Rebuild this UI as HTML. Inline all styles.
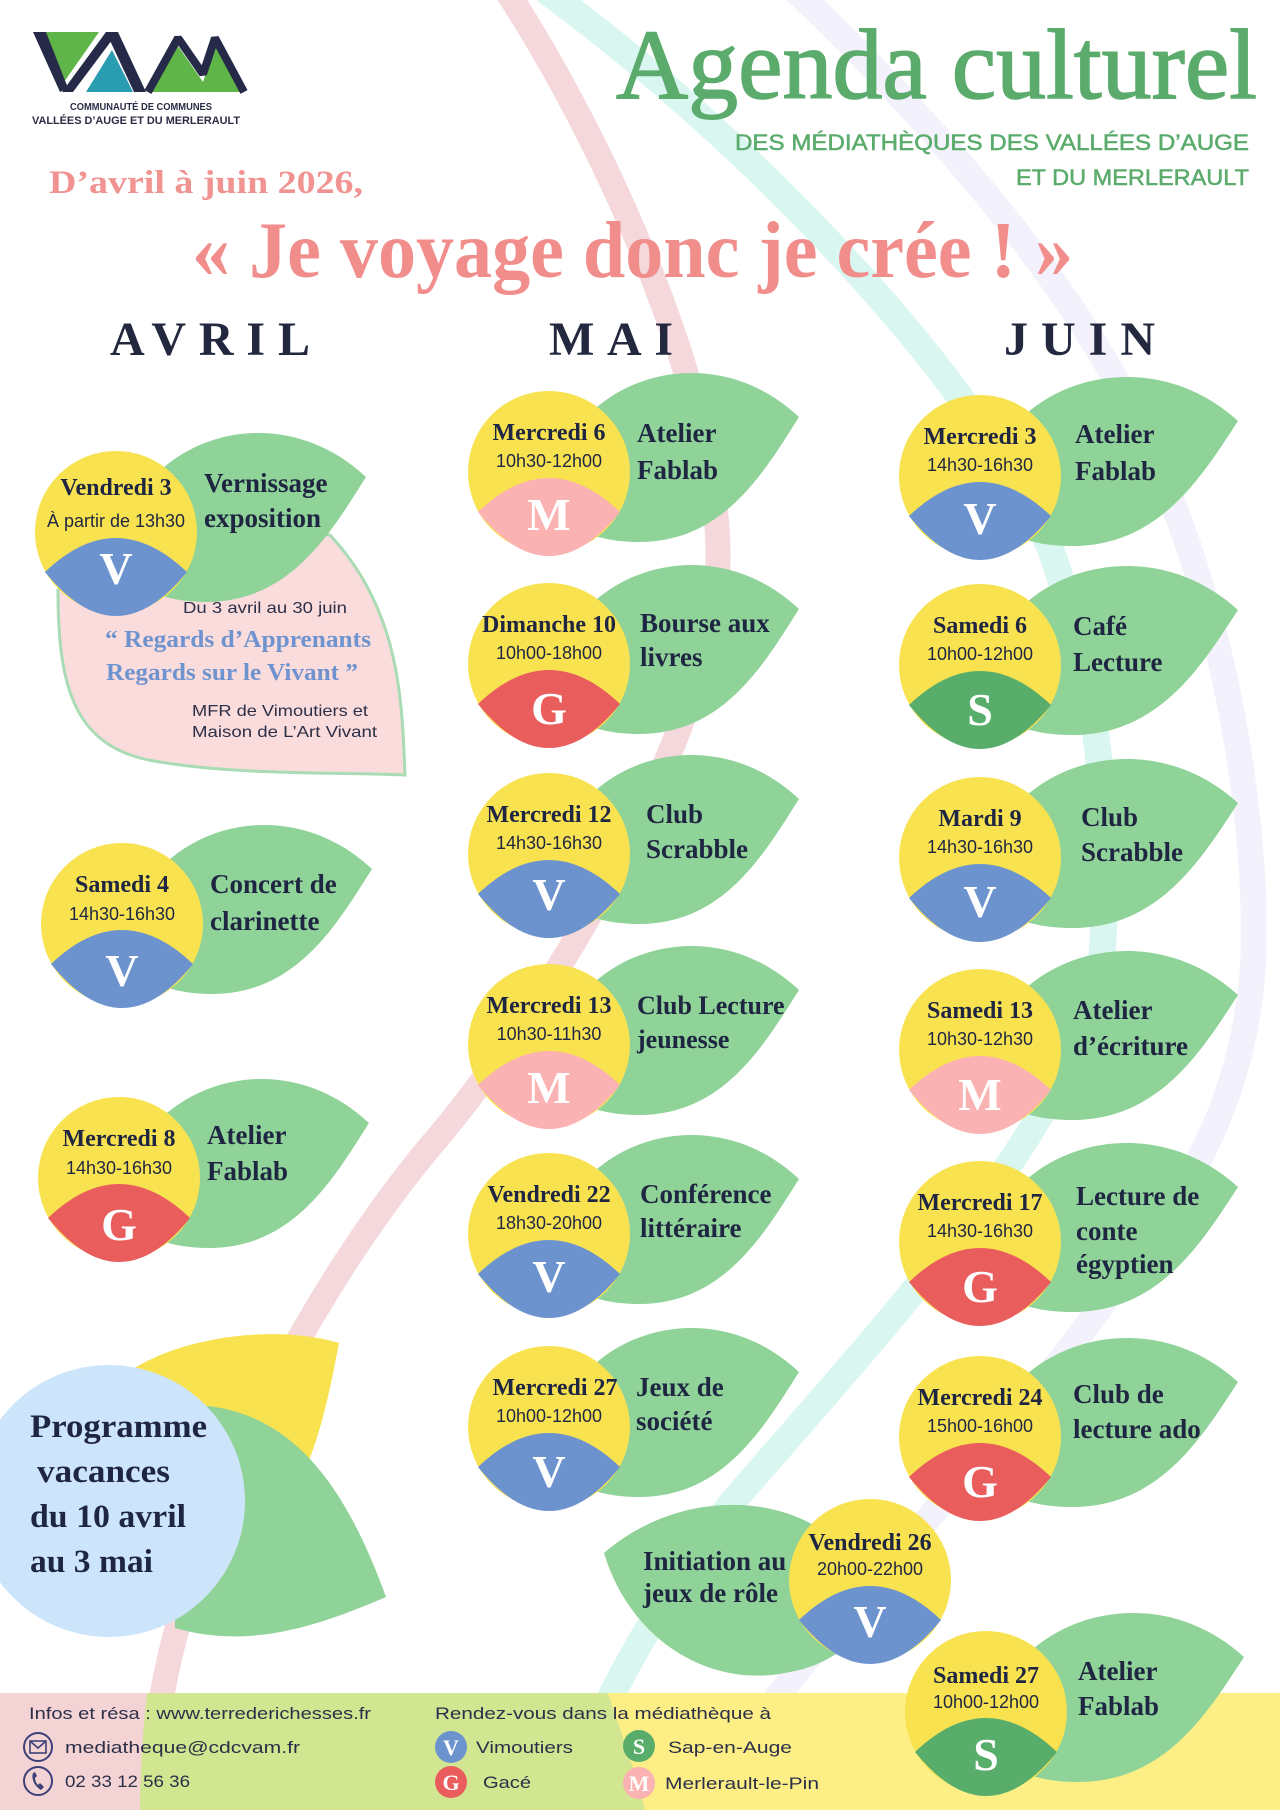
<!DOCTYPE html>
<html><head><meta charset="utf-8">
<style>
html,body{margin:0;padding:0;background:#fff;}
svg{display:block;}
.date{font-family:"Liberation Serif",serif;font-weight:bold;font-size:24px;text-anchor:middle;fill:#1f2642}
.time{font-family:"Liberation Sans",sans-serif;font-size:18px;text-anchor:middle;fill:#1f2642}
.let{font-family:"Liberation Serif",serif;font-weight:bold;font-size:46px;text-anchor:middle;fill:#fff}
.lt{font-family:"Liberation Serif",serif;font-weight:bold;font-size:27px;fill:#1f2642}
.vac{font-family:"Liberation Serif",serif;font-weight:bold;font-size:33px;fill:#1f2642}
.ft{font-family:"Liberation Sans",sans-serif;font-size:17px;fill:#2b2f48}
.lgl{font-family:"Liberation Serif",serif;font-weight:bold;font-size:22px;text-anchor:middle;fill:#fff}
.mon{font-family:"Liberation Serif",serif;font-weight:bold;font-size:48px;fill:#23283f}
</style></head><body>
<svg width="1280" height="1810" viewBox="0 0 1280 1810" xmlns="http://www.w3.org/2000/svg">
<defs>
<path id="leafR" d="M0,20 C20,-95 160,-140 250,-55 C215,0 175,70 90,70 C45,70 10,55 0,20Z"/>
<path id="leafJ" d="M0,20 C20,-95 165,-140 258,-55 C222,0 180,70 92,70 C45,70 10,55 0,20Z"/>
<path id="leafL" d="M0,20 C-20,-80 -170,-110 -266,-27 C-240,60 -160,110 -80,92 C-40,85 -5,60 0,20Z"/>
<path id="lens" d="M-71,40 Q0,-28 71,40 Q0,128 -71,40Z"/>
</defs>

<rect width="1280" height="1810" fill="#fff"/>

<!-- background bands -->
<path d="M795,-10 C900,90 1080,280 1150,450 C1230,620 1262,850 1252,980 C1235,1150 1150,1230 1095,1315 C980,1470 850,1600 775,1700" fill="none" stroke="#f3f2fc" stroke-width="26"/>
<path d="M545,-10 C750,140 980,380 1051,550 C1100,690 1110,820 1103,940 C1100,1100 880,1330 730,1505 C660,1600 590,1720 560,1820" fill="none" stroke="#d9f7f0" stroke-width="27"/>
<path d="M506,-10 C610,150 720,400 718,560 C716,720 560,990 440,1135 C340,1250 200,1480 161,1700 L155,1810" fill="none" stroke="#f4d8db" stroke-width="25"/>

<!-- logo -->
<g>
<polygon points="46,32 99,32 64,82" fill="#5fb548"/>
<polygon points="33,32 46,32 68,88 60,92" fill="#262a48"/>
<polygon points="106,32 118,32 73,92 62,92" fill="#262a48"/>
<polygon points="112,50 86,92 133,92" fill="#2b9db3"/>
<polygon points="106,32 118,32 146,92 134,92" fill="#262a48"/>
<polygon points="152,92 178,46 203,82 215,46 241,92" fill="#5fb548"/>
<polyline points="148,92 178,38 203,74 215,38 244,92" fill="none" stroke="#262a48" stroke-width="8" stroke-linejoin="bevel"/>
<text x="70" y="110" textLength="142" lengthAdjust="spacingAndGlyphs" style="font-family:'Liberation Sans',sans-serif;font-weight:bold;font-size:10px;fill:#2a2d45">COMMUNAUTÉ DE COMMUNES</text>
<text x="32" y="124" textLength="208" lengthAdjust="spacingAndGlyphs" style="font-family:'Liberation Sans',sans-serif;font-weight:bold;font-size:11px;fill:#2a2d45">VALLÉES D’AUGE ET DU MERLERAULT</text>
</g>

<!-- header -->
<text x="616" y="98" textLength="641" lengthAdjust="spacingAndGlyphs" style="font-family:'Liberation Serif',serif;font-size:100px;fill:#5aab6c;stroke:#5aab6c;stroke-width:1.5">Agenda culturel</text>
<text x="735" y="150" textLength="514" lengthAdjust="spacingAndGlyphs" style="font-family:'Liberation Sans',sans-serif;font-size:22px;fill:#5aab6c;stroke:#5aab6c;stroke-width:0.5">DES MÉDIATHÈQUES DES VALLÉES D’AUGE</text>
<text x="1016" y="185" textLength="233" lengthAdjust="spacingAndGlyphs" style="font-family:'Liberation Sans',sans-serif;font-size:22px;fill:#5aab6c;stroke:#5aab6c;stroke-width:0.5">ET DU MERLERAULT</text>
<text x="49" y="193" textLength="314" lengthAdjust="spacingAndGlyphs" style="font-family:'Liberation Serif',serif;font-weight:bold;font-size:33px;fill:#f09391">D’avril à juin 2026,</text>
<text x="192" y="277" textLength="881" lengthAdjust="spacingAndGlyphs" style="font-family:'Liberation Serif',serif;font-weight:bold;font-size:80px;fill:#f18e8c">« Je voyage donc je crée ! »</text>

<text class="mon" x="110" y="355" textLength="200" lengthAdjust="spacing">AVRIL</text>
<text class="mon" x="549" y="355" textLength="124" lengthAdjust="spacing">MAI</text>
<text class="mon" x="1004" y="355" textLength="151" lengthAdjust="spacing">JUIN</text>

<!-- AVRIL: Vendredi 3 -->
<path d="M58,590 C58,690 75,750 160,762 C240,775 330,772 405,775 C402,700 400,610 330,535 L150,520 Z" fill="#fbdcdc" stroke="#a9dbb4" stroke-width="3"/>
<g transform="translate(116,532)">
<use href="#leafR" fill="#8fd398"/>
<circle r="81" fill="#f9e250"/>
<use href="#lens" fill="#6d93cf"/>
<text class="date" x="0" y="-37">Vendredi 3</text>
<text class="time" x="0" y="-5">À partir de 13h30</text>
<text class="let" x="0" y="52">V</text>
<text class="lt" x="88" y="-40">Vernissage</text>
<text class="lt" x="88" y="-5">exposition</text>
</g>
<text x="183" y="613" textLength="164" lengthAdjust="spacingAndGlyphs" style="font-family:'Liberation Sans',sans-serif;font-size:16px;fill:#2b2f48">Du 3 avril au 30 juin</text>
<text x="105" y="647" textLength="266" lengthAdjust="spacingAndGlyphs" style="font-family:'Liberation Serif',serif;font-weight:bold;font-size:24px;fill:#6f93cf">“ Regards d’Apprenants</text>
<text x="106" y="680" textLength="252" lengthAdjust="spacingAndGlyphs" style="font-family:'Liberation Serif',serif;font-weight:bold;font-size:24px;fill:#6f93cf">Regards sur le Vivant ”</text>
<text x="192" y="716" textLength="176" lengthAdjust="spacingAndGlyphs" style="font-family:'Liberation Sans',sans-serif;font-size:16px;fill:#2b2f48">MFR de Vimoutiers et</text>
<text x="192" y="737" textLength="185" lengthAdjust="spacingAndGlyphs" style="font-family:'Liberation Sans',sans-serif;font-size:16px;fill:#2b2f48">Maison de L’Art Vivant</text>

<!-- AVRIL: Samedi 4 -->
<g transform="translate(122,924)">
<use href="#leafR" fill="#8fd398"/>
<circle r="81" fill="#f9e250"/>
<use href="#lens" fill="#6d93cf"/>
<text class="date" x="0" y="-32">Samedi 4</text>
<text class="time" x="0" y="-4">14h30-16h30</text>
<text class="let" x="0" y="62">V</text>
<text class="lt" x="88" y="-31">Concert de</text>
<text class="lt" x="88" y="6">clarinette</text>
</g>

<!-- AVRIL: Mercredi 8 -->
<g transform="translate(119,1178)">
<use href="#leafR" fill="#8fd398"/>
<circle r="81" fill="#f9e250"/>
<use href="#lens" fill="#e95d5d"/>
<text class="date" x="0" y="-32">Mercredi 8</text>
<text class="time" x="0" y="-4">14h30-16h30</text>
<text class="let" x="0" y="62">G</text>
<text class="lt" x="88" y="-34">Atelier</text>
<text class="lt" x="88" y="2">Fablab</text>
</g>

<!-- Vacances -->
<path d="M136,1367 C190,1335 280,1325 339,1343 C330,1390 322,1430 305,1470 L200,1470 Z" fill="#f9e250"/>
<path d="M175,1405 C280,1400 340,1470 386,1597 C320,1625 250,1650 175,1628 Z" fill="#8fd398"/>
<circle cx="109" cy="1501" r="136" fill="#cde5fb"/>
<text class="vac" x="30" y="1437" textLength="177" lengthAdjust="spacingAndGlyphs">Programme</text>
<text class="vac" x="37" y="1482" textLength="133" lengthAdjust="spacingAndGlyphs">vacances</text>
<text class="vac" x="30" y="1527" textLength="156" lengthAdjust="spacingAndGlyphs">du 10 avril</text>
<text class="vac" x="30" y="1572" textLength="123" lengthAdjust="spacingAndGlyphs">au 3 mai</text>

<!-- MAI -->
<g transform="translate(549,472)">
<use href="#leafR" fill="#8fd398"/><circle r="81" fill="#f9e250"/><use href="#lens" fill="#fbb2b2"/>
<text class="date" x="0" y="-32">Mercredi 6</text><text class="time" x="0" y="-5">10h30-12h00</text>
<text class="let" x="0" y="58">M</text>
<text class="lt" x="88" y="-30">Atelier</text><text class="lt" x="88" y="7">Fablab</text>
</g>
<g transform="translate(549,664)">
<use href="#leafR" fill="#8fd398"/><circle r="81" fill="#f9e250"/><use href="#lens" fill="#e95d5d"/>
<text class="date" x="0" y="-32">Dimanche 10</text><text class="time" x="0" y="-5">10h00-18h00</text>
<text class="let" x="0" y="60">G</text>
<text class="lt" x="91" y="-32">Bourse aux</text><text class="lt" x="91" y="2">livres</text>
</g>
<g transform="translate(549,854)">
<use href="#leafR" fill="#8fd398"/><circle r="81" fill="#f9e250"/><use href="#lens" fill="#6d93cf"/>
<text class="date" x="0" y="-32">Mercredi 12</text><text class="time" x="0" y="-5">14h30-16h30</text>
<text class="let" x="0" y="56">V</text>
<text class="lt" x="97" y="-31">Club</text><text class="lt" x="97" y="4">Scrabble</text>
</g>
<g transform="translate(549,1045)">
<use href="#leafR" fill="#8fd398"/><circle r="81" fill="#f9e250"/><use href="#lens" fill="#fbb2b2"/>
<text class="date" x="0" y="-32">Mercredi 13</text><text class="time" x="0" y="-5">10h30-11h30</text>
<text class="let" x="0" y="58">M</text>
<text class="lt" x="88" y="-31" style="font-size:26px">Club Lecture</text><text class="lt" x="88" y="3" style="font-size:26px">jeunesse</text>
</g>
<g transform="translate(549,1234)">
<use href="#leafR" fill="#8fd398"/><circle r="81" fill="#f9e250"/><use href="#lens" fill="#6d93cf"/>
<text class="date" x="0" y="-32">Vendredi 22</text><text class="time" x="0" y="-5">18h30-20h00</text>
<text class="let" x="0" y="58">V</text>
<text class="lt" x="91" y="-31">Conférence</text><text class="lt" x="91" y="3">littéraire</text>
</g>
<g transform="translate(549,1427)">
<use href="#leafR" fill="#8fd398"/><circle r="81" fill="#f9e250"/><use href="#lens" fill="#6d93cf"/>
<text class="date" x="6" y="-32">Mercredi 27</text><text class="time" x="0" y="-5">10h00-12h00</text>
<text class="let" x="0" y="60">V</text>
<text class="lt" x="87" y="-31">Jeux de</text><text class="lt" x="87" y="3">société</text>
</g>

<!-- JUIN -->
<g transform="translate(980,476)">
<use href="#leafJ" fill="#8fd398"/><circle r="81" fill="#f9e250"/><use href="#lens" fill="#6d93cf"/>
<text class="date" x="0" y="-32">Mercredi 3</text><text class="time" x="0" y="-5">14h30-16h30</text>
<text class="let" x="0" y="58">V</text>
<text class="lt" x="95" y="-33">Atelier</text><text class="lt" x="95" y="4">Fablab</text>
</g>
<g transform="translate(980,665)">
<use href="#leafJ" fill="#8fd398"/><circle r="81" fill="#f9e250"/><use href="#lens" fill="#58ad6b"/>
<text class="date" x="0" y="-32">Samedi 6</text><text class="time" x="0" y="-5">10h00-12h00</text>
<text class="let" x="0" y="60">S</text>
<text class="lt" x="93" y="-30">Café</text><text class="lt" x="93" y="6">Lecture</text>
</g>
<g transform="translate(980,858)">
<use href="#leafJ" fill="#8fd398"/><circle r="81" fill="#f9e250"/><use href="#lens" fill="#6d93cf"/>
<text class="date" x="0" y="-32">Mardi 9</text><text class="time" x="0" y="-5">14h30-16h30</text>
<text class="let" x="0" y="59">V</text>
<text class="lt" x="101" y="-32">Club</text><text class="lt" x="101" y="3">Scrabble</text>
</g>
<g transform="translate(980,1050)">
<use href="#leafJ" fill="#8fd398"/><circle r="81" fill="#f9e250"/><use href="#lens" fill="#fbb2b2"/>
<text class="date" x="0" y="-32">Samedi 13</text><text class="time" x="0" y="-5">10h30-12h30</text>
<text class="let" x="0" y="60">M</text>
<text class="lt" x="93" y="-31">Atelier</text><text class="lt" x="93" y="5">d’écriture</text>
</g>
<g transform="translate(980,1242)">
<use href="#leafJ" fill="#8fd398"/><circle r="81" fill="#f9e250"/><use href="#lens" fill="#e95d5d"/>
<text class="date" x="0" y="-32">Mercredi 17</text><text class="time" x="0" y="-5">14h30-16h30</text>
<text class="let" x="0" y="60">G</text>
<text class="lt" x="96" y="-37">Lecture de</text><text class="lt" x="96" y="-2">conte</text><text class="lt" x="96" y="31">égyptien</text>
</g>
<g transform="translate(980,1437)">
<use href="#leafJ" fill="#8fd398"/><circle r="81" fill="#f9e250"/><use href="#lens" fill="#e95d5d"/>
<text class="date" x="0" y="-32">Mercredi 24</text><text class="time" x="0" y="-5">15h00-16h00</text>
<text class="let" x="0" y="60">G</text>
<text class="lt" x="93" y="-34">Club de</text><text class="lt" x="93" y="1">lecture ado</text>
</g>

<!-- Vendredi 26 (mirrored) -->
<g transform="translate(870,1580)">
<use href="#leafL" fill="#8fd398"/><circle r="81" fill="#f9e250"/><use href="#lens" fill="#6d93cf"/>
<text class="date" x="0" y="-30">Vendredi 26</text><text class="time" x="0" y="-5">20h00-22h00</text>
<text class="let" x="0" y="57">V</text>
<text class="lt" x="-227" y="-10">Initiation au</text><text class="lt" x="-227" y="22">jeux de rôle</text>
</g>

<!-- footer -->
<rect x="0" y="1693" width="1280" height="117" fill="#d2e590"/>
<path d="M0,1693 L147,1693 C142,1740 140,1780 140,1810 L0,1810 Z" fill="#f4d3d5"/>
<path d="M608,1693 C620,1730 635,1770 645,1810 L1280,1810 L1280,1693 Z" fill="#fdef86"/>

<text class="ft" x="29" y="1719" textLength="342" lengthAdjust="spacingAndGlyphs">Infos et résa : www.terrederichesses.fr</text>
<circle cx="38" cy="1747" r="14" fill="none" stroke="#3c4178" stroke-width="2"/>
<rect x="30" y="1741" width="16" height="12" fill="none" stroke="#3c4178" stroke-width="1.6"/>
<polyline points="30,1741 38,1748 46,1741" fill="none" stroke="#3c4178" stroke-width="1.6"/>
<text class="ft" x="65" y="1753" textLength="235" lengthAdjust="spacingAndGlyphs">mediatheque@cdcvam.fr</text>
<circle cx="38" cy="1781" r="14" fill="none" stroke="#3c4178" stroke-width="2"/>
<path d="M33,1773 C31,1778 34,1786 41,1790 L44,1787 L40,1783 L38,1785 C36,1783 35,1780 35,1778 L37,1776 L35,1772 Z" fill="#3c4178"/>
<text class="ft" x="65" y="1787" textLength="125" lengthAdjust="spacingAndGlyphs">02 33 12 56 36</text>

<text class="ft" x="435" y="1719" textLength="336" lengthAdjust="spacingAndGlyphs">Rendez-vous dans la médiathèque à</text>
<circle cx="451" cy="1747" r="16" fill="#6d93cf"/><text class="lgl" x="451" y="1755">V</text>
<text class="ft" x="476" y="1753" textLength="97" lengthAdjust="spacingAndGlyphs">Vimoutiers</text>
<circle cx="451" cy="1782" r="16" fill="#e95d5d"/><text class="lgl" x="451" y="1790">G</text>
<text class="ft" x="483" y="1788" textLength="48" lengthAdjust="spacingAndGlyphs">Gacé</text>
<circle cx="639" cy="1746" r="16" fill="#58ad6b"/><text class="lgl" x="639" y="1754">S</text>
<text class="ft" x="668" y="1753" textLength="124" lengthAdjust="spacingAndGlyphs">Sap-en-Auge</text>
<circle cx="639" cy="1783" r="16" fill="#fbb2b2"/><text class="lgl" x="639" y="1791">M</text>
<text class="ft" x="665" y="1789" textLength="154" lengthAdjust="spacingAndGlyphs">Merlerault-le-Pin</text>

<!-- Samedi 27 (over footer) -->
<g transform="translate(986,1712)">
<use href="#leafJ" fill="#8fd398"/><circle r="81" fill="#f9e250"/><use href="#lens" fill="#58ad6b"/>
<text class="date" x="0" y="-29">Samedi 27</text><text class="time" x="0" y="-4">10h00-12h00</text>
<text class="let" x="0" y="58">S</text>
<text class="lt" x="92" y="-32">Atelier</text><text class="lt" x="92" y="3">Fablab</text>
</g>
</svg>
</body></html>
